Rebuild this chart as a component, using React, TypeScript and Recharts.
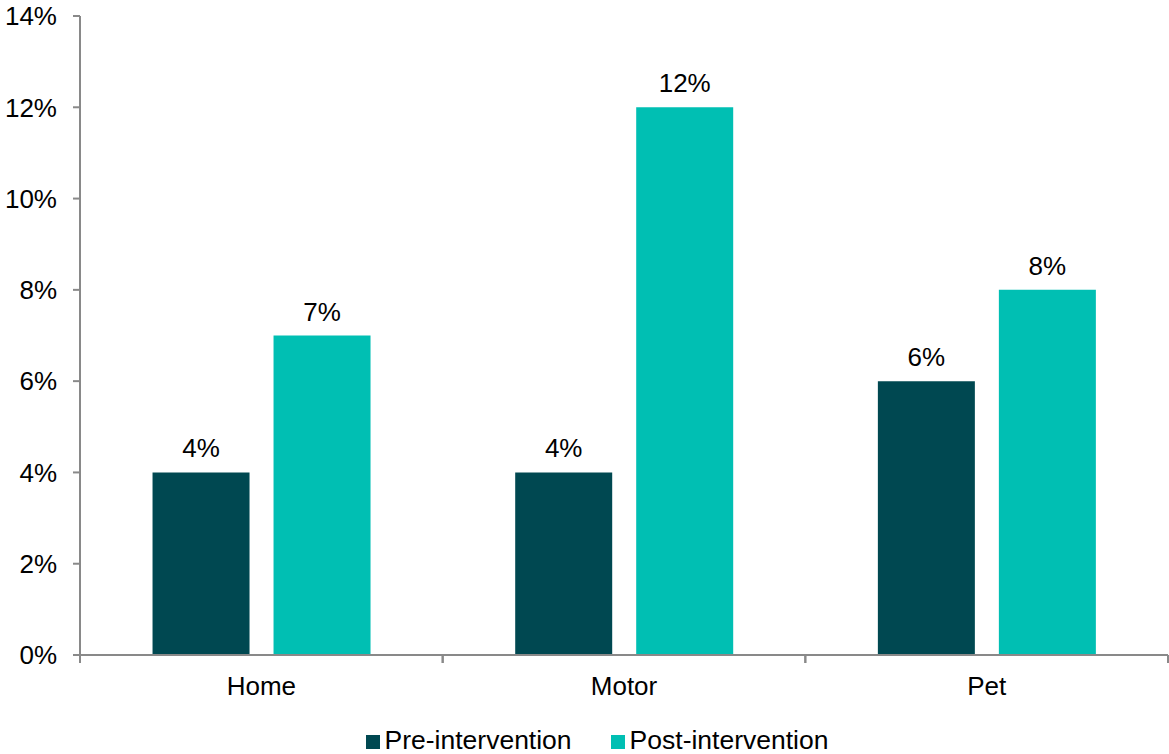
import { BarChart, Bar, XAxis, YAxis, Legend, LabelList } from "recharts";

const categories = ["Home", "Motor", "Pet"];
const preIntervention = [4, 4, 6];
const postIntervention = [7, 12, 8];
const yTicks = [0, 2, 4, 6, 8, 10, 12, 14];

const PRE_COLOR = "#004851";
const POST_COLOR = "#00BFB3";
const AXIS_COLOR = "#898989";
const FONT = "'Liberation Sans', Arial, sans-serif";
const FONT_SIZE = 26;

const data = categories.map((name, i) => ({
  name,
  pre: preIntervention[i],
  post: postIntervention[i],
}));

const PLOT_LEFT = 80;
const PLOT_RIGHT = 1168;
const band = (PLOT_RIGHT - PLOT_LEFT) / categories.length;

function CategoryTick(props: any) {
  const { x, y, payload } = props;
  return (
    <g>
      <line x1={x - band / 2} x2={x - band / 2} y1={y - 8} y2={y} stroke={AXIS_COLOR} strokeWidth={2} />
      <line x1={x + band / 2} x2={x + band / 2} y1={y - 8} y2={y} stroke={AXIS_COLOR} strokeWidth={2} />
      <text x={x} y={y + 32} textAnchor="middle" fill="#000" fontSize={FONT_SIZE} fontFamily={FONT}>
        {payload.value}
      </text>
    </g>
  );
}

function LegendContent() {
  const items = [
    { label: "Pre-intervention", color: PRE_COLOR },
    { label: "Post-intervention", color: POST_COLOR },
  ];
  return (
    <div
      style={{
        display: "flex",
        justifyContent: "center",
        gap: 39,
        fontFamily: FONT,
        fontSize: 26.5,
        lineHeight: "30px",
        color: "#000",
        marginTop: 8,
        paddingLeft: 26,
      }}
    >
      {items.map((it) => (
        <div key={it.label} style={{ display: "flex", alignItems: "center" }}>
          <span style={{ width: 14, height: 14, background: it.color, display: "inline-block", marginRight: 5, marginTop: 3 }} />
          <span>{it.label}</span>
        </div>
      ))}
    </div>
  );
}

export default function App() {
  return (
    <div style={{ position: "absolute", left: 0, top: 0, background: "#fff" }}>
      <BarChart
        width={1169}
        height={754}
        data={data}
        margin={{ top: 16, right: 1, left: 0, bottom: 0 }}
        barCategoryGap="20%"
        barGap={24}
      >
        <XAxis
          dataKey="name"
          height={62}
          axisLine={{ stroke: AXIS_COLOR, strokeWidth: 2 }}
          tickLine={false}
          tick={<CategoryTick />}
          interval={0}
        />
        <YAxis
          width={80}
          domain={[0, 14]}
          ticks={yTicks}
          interval={0}
          tickFormatter={(v) => `${v}%`}
          axisLine={{ stroke: AXIS_COLOR, strokeWidth: 2 }}
          tickLine={{ stroke: AXIS_COLOR, strokeWidth: 2 }}
          tickSize={7}
          tickMargin={16}
          tick={{ fill: "#000", fontSize: FONT_SIZE, fontFamily: FONT }}
        />
        <Legend verticalAlign="bottom" height={37} content={<LegendContent />} />
        <Bar dataKey="pre" name="Pre-intervention" fill={PRE_COLOR} isAnimationActive={false}>
          <LabelList
            dataKey="pre"
            position="top"
            offset={15}
            formatter={(v: any) => `${v}%`}
            style={{ fill: "#000", fontSize: FONT_SIZE, fontFamily: FONT }}
          />
        </Bar>
        <Bar dataKey="post" name="Post-intervention" fill={POST_COLOR} isAnimationActive={false}>
          <LabelList
            dataKey="post"
            position="top"
            offset={15}
            formatter={(v: any) => `${v}%`}
            style={{ fill: "#000", fontSize: FONT_SIZE, fontFamily: FONT }}
          />
        </Bar>
      </BarChart>
    </div>
  );
}
